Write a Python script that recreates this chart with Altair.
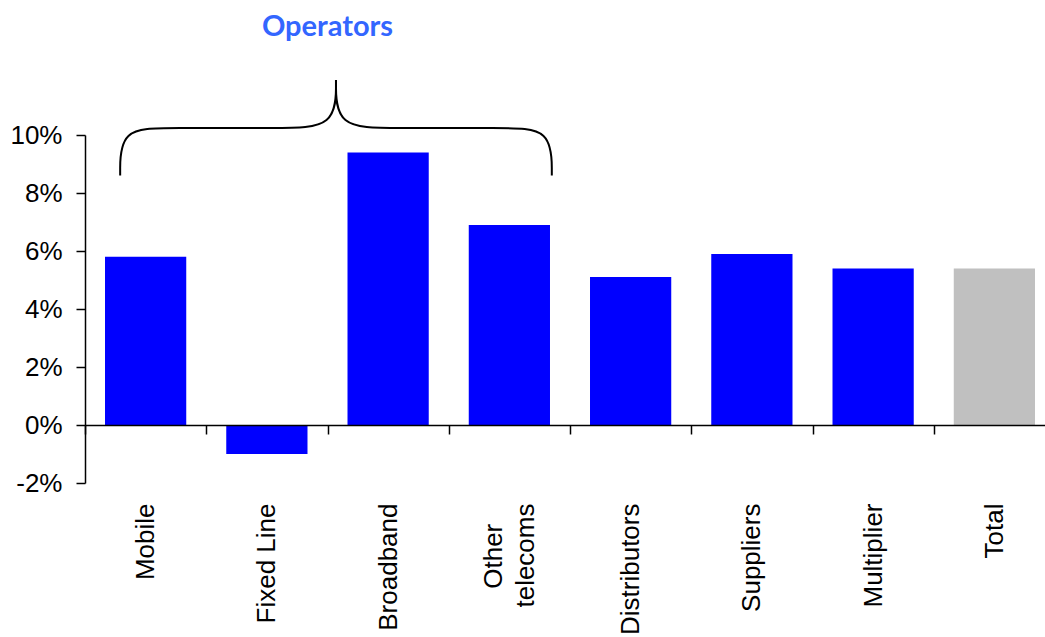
import altair as alt
import pandas as pd

# Growth by segment, in percent
categories = ["Mobile", "Fixed Line", "Broadband", "Other telecoms",
              "Distributors", "Suppliers", "Multiplier", "Total"]
growth = [5.8, -1.0, 9.4, 6.9, 5.1, 5.9, 5.4, 5.4]
groups = ["segment"] * 7 + ["total"]

y_ticks = [-2, 0, 2, 4, 6, 8, 10]
Y_MIN, Y_MAX = -2, 10

# Brace over the operator segments, left half (x in category units, y in %)
brace_half_x = [0.29, 0.29, 0.70, 1.60, 2.07, 2.07]
brace_half_y = [8.6, 10.24, 10.24, 10.24, 10.24, 11.9]
brace_title = "Operators"
brace_title_pos = (2.0, 13.4)

WIDTH, HEIGHT = 960, 348
BAND_RANGE = 970  # eight categories; the last band runs past the right edge

bars_df = pd.DataFrame({"category": categories, "growth": growth, "group": groups})

mid = brace_half_x[-1]
brace_rows = []
for i, (bx, by) in enumerate(zip(brace_half_x, brace_half_y)):
    brace_rows.append({"side": "left", "step": i, "bx": bx, "by": by})
    brace_rows.append({"side": "right", "step": i, "bx": 2 * mid - bx, "by": by})
brace_df = pd.DataFrame(brace_rows)

title_df = pd.DataFrame({"text": [brace_title], "bx": [brace_title_pos[0]], "by": [brace_title_pos[1]]})

y_scale = alt.Scale(domain=[Y_MIN, Y_MAX], nice=False, zero=False)
idx_scale = alt.Scale(domain=[0, len(categories)], range=[0, BAND_RANGE], nice=False, zero=False)

label_font = "Liberation Sans"
label_line_height = 32
zero_offset = -HEIGHT * (0 - Y_MIN) / (Y_MAX - Y_MIN)

y_axis = alt.Axis(
    title=None,
    values=y_ticks,
    labelExpr="datum.value + '%'",
    grid=False,
    tickSize=9,
    tickWidth=1.5,
    tickColor="black",
    domainColor="black",
    domainWidth=1.5,
    labelPadding=14,
    labelFont=label_font,
    labelFontSize=26,
    labelColor="black",
)

# Two-line label: the short first line is padded so both lines sit centred on each other
two_line_test = "datum.value == 'Other telecoms'"
two_line_label = "['Other\u2002\u00a0\u200b', 'telecoms']"

bars = alt.Chart(bars_df).mark_bar(width=alt.RelativeBandSize(0.67)).encode(
    x=alt.X(
        "category:N",
        sort=categories,
        scale=alt.Scale(range=[0, BAND_RANGE], paddingInner=0, paddingOuter=0),
        axis=alt.Axis(
            title=None,
            orient="bottom",
            offset=zero_offset,
            tickBand="extent",
            tickSize=9,
            tickWidth=1.5,
            tickColor="black",
            domainColor="black",
            domainWidth=1.5,
            labelAngle=270,
            labelAlign="right",
            labelBaseline="middle",
            labelPadding=69,
            labelFont=label_font,
            labelFontSize=26,
            labelColor="black",
            labelLineHeight=label_line_height,
            labelLimit=400,
            labelOffset={"condition": {"test": two_line_test, "value": -label_line_height / 2}, "value": 0},
            labelExpr=two_line_test + " ? " + two_line_label + " : datum.label",
            zindex=1,
        ),
    ),
    y=alt.Y("growth:Q", scale=y_scale, axis=y_axis),
    color=alt.Color(
        "group:N",
        scale=alt.Scale(domain=["segment", "total"], range=["#0000FF", "#C0C0C0"]),
        legend=None,
    ),
)

brace = alt.Chart(brace_df).mark_line(
    color="black", strokeWidth=2, interpolate="basis"
).encode(
    x=alt.X("bx:Q", scale=idx_scale, axis=None),
    y=alt.Y("by:Q", scale=y_scale, axis=y_axis),
    detail="side:N",
    order="step:Q",
)

brace_label = alt.Chart(title_df).mark_text(
    font="Lato", fontSize=29, fontWeight="bold", color="#3366FF",
    align="center", baseline="alphabetic",
).encode(
    x=alt.X("bx:Q", scale=idx_scale, axis=None),
    y=alt.Y("by:Q", scale=y_scale, axis=y_axis),
    text="text:N",
)

chart = alt.layer(bars, brace, brace_label).resolve_scale(
    x="independent"
).properties(
    width=WIDTH,
    height=HEIGHT,
    autosize=alt.AutoSizeParams(type="none"),
    padding={"left": 85, "top": 135, "right": 0, "bottom": 154},
    background="white",
).configure_view(stroke=None)

chart.save("out.html", embed_options={"renderer": "svg", "actions": False})
